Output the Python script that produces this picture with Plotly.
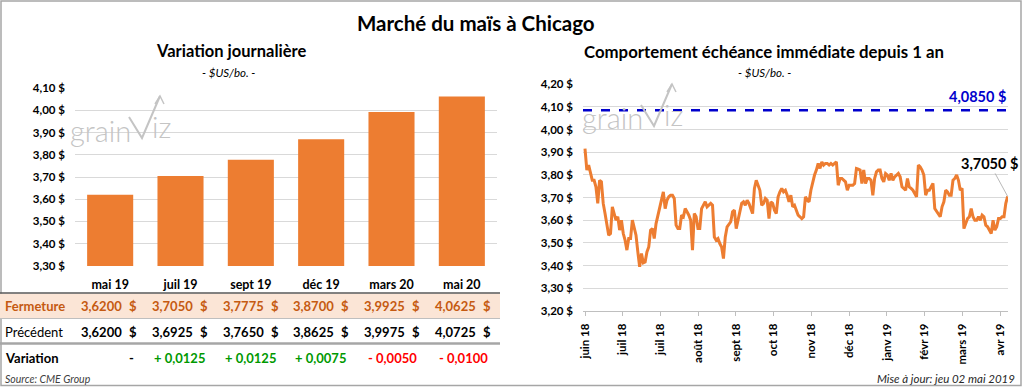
import plotly.graph_objects as go

W, H = 1024, 387
def px(x): return x / W
def py(y): return 1 - y / H

FONT = "Lato"
ORANGE = "#ED7D31"

# ---------------- data ----------------
contracts = ["mai 19", "juil 19", "sept 19", "déc 19", "mars 20", "mai 20"]
fermeture = [3.6200, 3.7050, 3.7775, 3.8700, 3.9925, 4.0625]
precedent = [3.6200, 3.6925, 3.7650, 3.8625, 3.9975, 4.0725]
variation = [0.0, 0.0125, 0.0125, 0.0075, -0.0050, -0.0100]

left_ticks = [3.30, 3.40, 3.50, 3.60, 3.70, 3.80, 3.90, 4.00, 4.10]
right_ticks = [3.20, 3.30, 3.40, 3.50, 3.60, 3.70, 3.80, 3.90, 4.00, 4.10, 4.20]

month_labels = ["juin 18", "juil 18", "juil 18", "août 18", "sept 18", "oct 18",
                "nov 18", "déc 18", "janv 19", "févr 19", "mars 19", "avr 19"]

prices = [
    3.916, 3.821, 3.843, 3.806, 3.776, 3.776, 3.747, 3.674, 3.776, 3.769,
    3.674, 3.629, 3.585, 3.534, 3.541, 3.659, 3.629, 3.600, 3.615, 3.556,
    3.600, 3.541, 3.512, 3.468, 3.519, 3.519, 3.600, 3.571, 3.534, 3.460,
    3.394, 3.453, 3.412, 3.416, 3.460, 3.482, 3.556, 3.563, 3.519, 3.585,
    3.622, 3.644, 3.688, 3.725, 3.651, 3.688, 3.703, 3.710, 3.710, 3.696,
    3.578, 3.563, 3.563, 3.622, 3.615, 3.651, 3.637, 3.622, 3.600, 3.468,
    3.629, 3.615, 3.563, 3.563, 3.651, 3.666, 3.681, 3.659, 3.666, 3.674,
    3.666, 3.526, 3.512, 3.519, 3.497, 3.482, 3.431, 3.526, 3.571, 3.585,
    3.593, 3.637, 3.644, 3.563, 3.600, 3.629, 3.674, 3.681, 3.666, 3.688,
    3.674, 3.651, 3.629, 3.740, 3.776, 3.754, 3.732, 3.666, 3.674, 3.696,
    3.688, 3.607, 3.681, 3.674, 3.644, 3.629, 3.703, 3.725, 3.740, 3.725,
    3.732, 3.710, 3.681, 3.710, 3.659, 3.666, 3.644, 3.622, 3.615, 3.607,
    3.615, 3.703, 3.688, 3.681, 3.732, 3.769, 3.799, 3.821, 3.850, 3.828,
    3.857, 3.843, 3.850, 3.850, 3.843, 3.850, 3.843, 3.850, 3.857, 3.754,
    3.784, 3.784, 3.776, 3.769, 3.732, 3.754, 3.754, 3.754, 3.762, 3.828,
    3.825, 3.821, 3.762, 3.821, 3.762, 3.784, 3.784, 3.776, 3.710, 3.784,
    3.813, 3.821, 3.821, 3.784, 3.769, 3.806, 3.799, 3.776, 3.806, 3.776,
    3.791, 3.799, 3.806, 3.791, 3.747, 3.740, 3.732, 3.784, 3.747, 3.740,
    3.732, 3.718, 3.703, 3.843, 3.835, 3.821, 3.799, 3.710, 3.732, 3.732,
    3.747, 3.762, 3.651, 3.637, 3.629, 3.615, 3.659, 3.681, 3.732, 3.725,
    3.710, 3.710, 3.776, 3.784, 3.799, 3.776, 3.732, 3.740, 3.563, 3.585,
    3.607, 3.615, 3.651, 3.615, 3.600, 3.600, 3.615, 3.600, 3.622, 3.615,
    3.578, 3.571, 3.556, 3.541, 3.600, 3.556, 3.571, 3.607, 3.607, 3.615,
    3.615, 3.674, 3.705,
]
limit_price = 4.0850

N = len(prices)
TICK_STEP = 20.72
days = list(range(N))


def fmt4(v):
    return f"{v:.4f}".replace(".", ",")


def fmt_tick(v):
    return f"<b>{v:.2f}".replace(".", ",") + " $</b>"


def fmt_var(v):
    if abs(v) < 1e-9:
        return "-"
    sign = "+ " if v > 0 else "- "
    return sign + fmt4(abs(v))


fig = go.Figure()

fig.add_trace(go.Bar(
    x=contracts, y=fermeture, marker=dict(color=ORANGE, line=dict(width=0)),
    xaxis="x", yaxis="y", hoverinfo="skip", showlegend=False,
))

fig.add_trace(go.Scatter(
    x=days, y=prices, mode="lines", line=dict(color=ORANGE, width=3),
    xaxis="x2", yaxis="y2", hoverinfo="skip", showlegend=False,
))

grid = "#D9D9D9"
fig.update_layout(
    width=W, height=H, margin=dict(l=0, r=0, t=0, b=0, autoexpand=False),
    paper_bgcolor="white", plot_bgcolor="white",
    font=dict(family=FONT, color="black"),
    bargap=0.345,
    xaxis=dict(domain=[px(75), px(497)], anchor="y", type="category", showgrid=False,
               showline=False, ticks="", ticklabelstandoff=9,
               tickfont=dict(size=12.5, color="black", weight="bold"),
               fixedrange=True),
    yaxis=dict(domain=[py(266), py(88)], anchor="x", range=[3.2995, 4.1005],
               tickvals=left_ticks, ticktext=[fmt_tick(v) for v in left_ticks],
               showgrid=True, gridcolor=grid, gridwidth=1, zeroline=False,
               showline=False, ticks="", ticklabelstandoff=9,
               tickfont=dict(size=11.5, color="black"), fixedrange=True),
    xaxis2=dict(domain=[px(583), px(1008)], anchor="y2", range=[-1.1, N - 0.8],
                tickvals=[i * TICK_STEP for i in range(len(month_labels))],
                ticktext=[f"<b>{m}</b>" for m in month_labels],
                tickangle=-90, showgrid=False, zeroline=False,
                showline=True, linecolor="#BFBFBF", linewidth=1,
                ticks="outside", ticklen=4, tickcolor="#BFBFBF",
                ticklabelstandoff=3,
                tickfont=dict(size=11.5, color="black"), fixedrange=True),
    yaxis2=dict(domain=[py(311), py(84)], anchor="x2", range=[3.1995, 4.2005],
                tickvals=right_ticks, ticktext=[fmt_tick(v) for v in right_ticks],
                showgrid=True, gridcolor=grid, gridwidth=1, zeroline=False,
                showline=False, ticks="", ticklabelstandoff=9,
                tickfont=dict(size=11.5, color="black"), fixedrange=True),
)

shapes = []
annots = []


def note(x, y, text, size, color="black", xanchor="center", **kw):
    annots.append(dict(xref="paper", yref="paper", x=px(x), y=py(y), text=text,
                       xanchor=xanchor, yanchor="middle", showarrow=False,
                       font=dict(size=size, color=color, **kw)))


# outer border
shapes.append(dict(type="rect", xref="paper", yref="paper",
                   x0=px(1), x1=px(1021), y0=py(385.5), y1=py(1),
                   line=dict(color="#A6A6A6", width=1.5), layer="below"))

# limit dashed line
shapes.append(dict(type="line", xref="x2 domain", yref="y2",
                   x0=0, x1=1, y0=limit_price, y1=limit_price,
                   line=dict(color="#0000CC", width=2.5, dash="dash")))
annots.append(dict(xref="x2 domain", yref="y2", x=1, y=limit_price,
                   xanchor="right", yanchor="bottom", yshift=3,
                   text="<b>" + fmt4(limit_price) + " $</b>", showarrow=False,
                   font=dict(size=14.5, color="#0000CC")))

# last price callout
annots.append(dict(xref="x2", yref="y2", x=days[-1], y=prices[-1],
                   text="<b>" + fmt4(prices[-1]) + " $</b>", showarrow=True,
                   arrowhead=0, arrowwidth=0.8, arrowcolor="#A6A6A6",
                   ax=-18, ay=-33, xanchor="center", yanchor="middle",
                   font=dict(size=14.5, color="black")))

# titles
note(476, 23, "<b>Marché du maïs à Chicago</b>", 20.5)
note(231, 51, "<b>Variation journalière</b>", 16.5)
note(764, 51, "<b>Comportement échéance immédiate depuis 1 an</b>", 16.8)
for cx in (228, 764):
    note(cx, 72, "<i>- $US/bo. -</i>", 11.5)

# watermark
WM = "#C4C4C4"
def watermark(dx, dy):
    note(68 + dx, 130 + dy, "grain", 29, WM, xanchor="left", weight=300)
    note(150 + dx, 126 + dy, "iz", 29, WM, xanchor="left", weight=300)
    pts = [(129, 117), (142, 138), (160, 96)]
    path = "M " + " L ".join(f"{px(x + dx)},{py(y + dy)}" for x, y in pts)
    shapes.append(dict(type="path", xref="paper", yref="paper", path=path,
                       line=dict(color=WM, width=2)))
    head = [(155, 104), (160, 96), (164, 104)]
    path = "M " + " L ".join(f"{px(x + dx)},{py(y + dy)}" for x, y in head)
    shapes.append(dict(type="path", xref="paper", yref="paper", path=path,
                       line=dict(color=WM, width=1.5)))

watermark(0, 0)
watermark(512, -12)

# ---------------- table ----------------
shapes.append(dict(type="rect", xref="paper", yref="paper",
                   x0=0, x1=px(500), y0=py(318), y1=py(293.5),
                   fillcolor="#FBE5D6", line=dict(width=0), layer="below"))
shapes.append(dict(type="line", xref="paper", yref="paper",
                   x0=0, x1=px(500), y0=py(293), y1=py(293),
                   line=dict(color="#595959", width=1.5)))
shapes.append(dict(type="line", xref="paper", yref="paper",
                   x0=0, x1=px(500), y0=py(318.5), y1=py(318.5),
                   line=dict(color="#BFBFBF", width=1)))
shapes.append(dict(type="line", xref="paper", yref="paper",
                   x0=0, x1=px(500), y0=py(343.5), y1=py(343.5),
                   line=dict(color="#A6A6A6", width=2.5)))

BROWN = "#C55A11"
ROW_F, ROW_P, ROW_V = 306, 331.5, 357.5
note(3, ROW_F, "<b>Fermeture</b>", 13, BROWN, xanchor="left")
note(3, ROW_P, "Précédent", 13, "black", xanchor="left")
note(3, ROW_V, "<b>Variation</b>", 13, "black", xanchor="left")

for i in range(len(contracts)):
    dol = 133 + i * 70.8
    for row_y, vals, col in ((ROW_F, fermeture, BROWN), (ROW_P, precedent, "black")):
        note(dol - 9, row_y, "<b>" + fmt4(vals[i]) + "</b>", 13, col, xanchor="right")
        note(dol, row_y, "<b>$</b>", 13, col)
    v = variation[i]
    vcol = "#009900" if v > 1e-9 else ("#FF0000" if v < -1e-9 else "black")
    note(dol + 3, ROW_V, "<b>" + fmt_var(v) + "</b>", 13, vcol, xanchor="right")

note(3, 379, "<i>Source: CME Group</i>", 10.5, "#404040", xanchor="left")
note(1017, 378, "<i>Mise à jour: jeu 02 mai 2019</i>", 11.5, "#262626", xanchor="right")

fig.update_layout(shapes=shapes, annotations=annots)

fig.write_html("out.html", config={"displayModeBar": False},
               post_script="document.body.style.margin='0';document.body.style.overflow='hidden';")
